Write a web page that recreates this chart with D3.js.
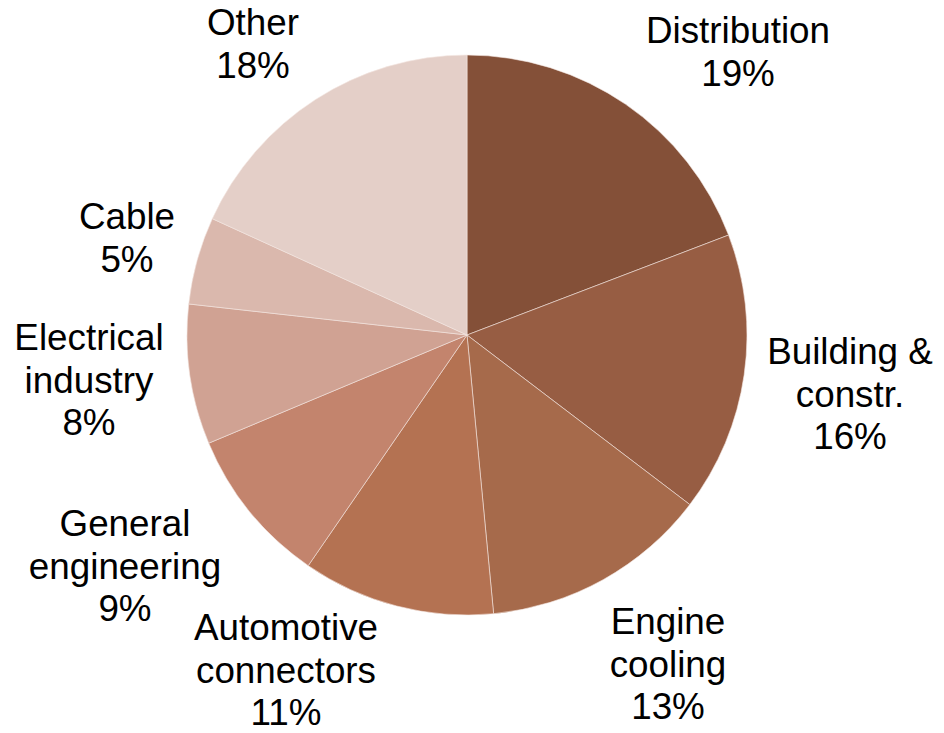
<!DOCTYPE html>
<html>
<head>
<meta charset="utf-8">
<script src="https://cdn.jsdelivr.net/npm/d3@7"></script>
<style>
  html, body { margin: 0; padding: 0; background: #ffffff; }
  svg { display: block; }
  text { font-family: "Liberation Sans", Arial, sans-serif; fill: #000; }
</style>
</head>
<body>
<svg id="chart" width="944" height="733"></svg>
<script>
// Market segments (share of volume, %)
const categories = ["Distribution", "Building & constr.", "Engine cooling", "Automotive connectors",
                    "General engineering", "Electrical industry", "Cable", "Other"];
const values = [19, 16, 13, 11, 9, 8, 5, 18];
// Label lines shown next to each slice (the last line is the percentage)
const labelLines = [
  ["Distribution"],
  ["Building &", "constr."],
  ["Engine", "cooling"],
  ["Automotive", "connectors"],
  ["General", "engineering"],
  ["Electrical", "industry"],
  ["Cable"],
  ["Other"]
];
const colors = ["#845038", "#975d43", "#a66a4b", "#b47252", "#c3846d", "#d0a293", "#dab8ad", "#e4cfc8"];
// Label anchor (center x, first baseline) per segment
const labelPos = [
  [738, 43], [850, 364], [668, 634], [286, 640],
  [125, 536], [89, 350], [127, 229], [253, 35]
];

const W = 944, H = 733;
const cx = 467, cy = 335, radius = 280;
const lineH = 42.5;

const svg = d3.select("#chart");

const data = categories.map((c, i) => ({ name: c, value: values[i], i }));

const pie = d3.pie().value(d => d.value).sort(null);
const arc = d3.arc().innerRadius(0).outerRadius(radius);

const color = d3.scaleOrdinal().domain(categories).range(colors);

const g = svg.append("g").attr("transform", `translate(${cx},${cy})`);

g.selectAll("path")
  .data(pie(data))
  .join("path")
  .attr("d", arc)
  .attr("fill", d => color(d.data.name))
  .attr("stroke", "#f3e6e0")
  .attr("stroke-width", 0.6);

const labels = svg.append("g").selectAll("text")
  .data(data)
  .join("text")
  .attr("text-anchor", "middle")
  .attr("font-size", 36.8);

labels.each(function(d) {
  const t = d3.select(this);
  const [x, y] = labelPos[d.i];
  const lines = labelLines[d.i].concat([d.value + "%"]);
  lines.forEach((ln, k) => {
    t.append("tspan")
      .attr("x", x)
      .attr("y", y + k * lineH)
      .text(ln);
  });
});
</script>
</body>
</html>
